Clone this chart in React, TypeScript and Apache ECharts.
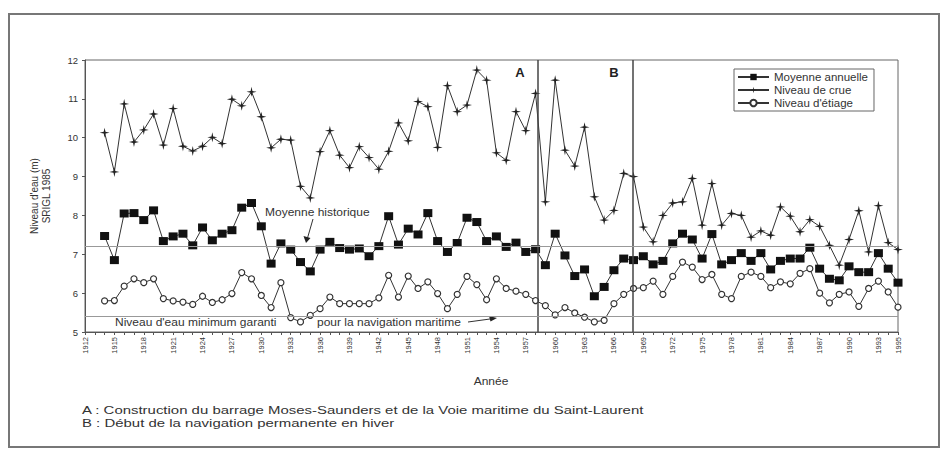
import React, { useEffect, useRef } from "react";
import * as echarts from "echarts";

// ---- Data (years 1914-1995) ----
const FIRST_YEAR = 1914;
const AXIS_MIN_YEAR = 1912;
const AXIS_MAX_YEAR = 1995;
const labelYears = [1912, 1915, 1918, 1921, 1924, 1927, 1930, 1933, 1936, 1939, 1942, 1945, 1948, 1951, 1954, 1957, 1960, 1963, 1966, 1969, 1972, 1975, 1978, 1981, 1984, 1987, 1990, 1993, 1995];

const moyenneAnnuelle = [
  7.47, 6.85, 8.05, 8.06, 7.88, 8.13, 7.34, 7.46, 7.53, 7.23,
  7.69, 7.36, 7.53, 7.62, 8.20, 8.32, 7.72, 6.76, 7.28, 7.12,
  6.80, 6.56, 7.12, 7.32, 7.16, 7.12, 7.15, 6.95, 7.21, 7.98,
  7.25, 7.66, 7.51, 8.06, 7.34, 7.06, 7.29, 7.94, 7.83, 7.34,
  7.46, 7.19, 7.30, 7.06, 7.13, 6.72, 7.53, 6.97, 6.44, 6.61,
  5.92, 6.16, 6.59, 6.89, 6.85, 6.95, 6.74, 6.83, 7.28, 7.53,
  7.38, 6.89, 7.52, 6.74, 6.85, 7.03, 6.83, 7.03, 6.61, 6.83,
  6.89, 6.89, 7.17, 6.63, 6.37, 6.33, 6.69, 6.54, 6.54, 7.03,
  6.63, 6.27,
];

const niveauCrue = [
  10.13, 9.12, 10.87, 9.89, 10.20, 10.61, 9.81, 10.75, 9.78, 9.66,
  9.78, 10.01, 9.85, 10.99, 10.82, 11.18, 10.54, 9.74, 9.96, 9.94,
  8.75, 8.45, 9.64, 10.18, 9.55, 9.23, 9.77, 9.49, 9.19, 9.65,
  10.38, 9.92, 10.93, 10.80, 9.75, 11.34, 10.67, 10.84, 11.74, 11.48,
  9.61, 9.42, 10.67, 10.18, 11.14, 8.35, 11.48, 9.68, 9.27, 10.27,
  8.48, 7.88, 8.13, 9.08, 9.00, 7.70, 7.32, 8.00, 8.32, 8.35,
  8.95, 7.75, 8.82, 7.75, 8.05, 8.00, 7.44, 7.60, 7.49, 8.22,
  7.98, 7.58, 7.89, 7.72, 7.23, 6.72, 7.38, 8.12, 7.06, 8.25,
  7.30, 7.12,
];

const niveauEtiage = [
  5.80, 5.81, 6.18, 6.37, 6.27, 6.37, 5.86, 5.80, 5.77, 5.71,
  5.92, 5.76, 5.83, 5.99, 6.53, 6.37, 5.94, 5.63, 6.27, 5.37,
  5.26, 5.43, 5.60, 5.90, 5.73, 5.73, 5.73, 5.73, 5.88, 6.46,
  5.90, 6.44, 6.12, 6.29, 5.99, 5.60, 5.97, 6.43, 6.22, 5.83,
  6.37, 6.12, 6.05, 5.97, 5.81, 5.68, 5.44, 5.63, 5.49, 5.38,
  5.26, 5.30, 5.73, 5.97, 6.12, 6.14, 6.31, 5.97, 6.43, 6.80,
  6.67, 6.35, 6.48, 5.97, 5.86, 6.43, 6.54, 6.43, 6.14, 6.29,
  6.24, 6.51, 6.63, 6.00, 5.75, 5.97, 6.03, 5.66, 6.12, 6.31,
  6.03, 5.64,
];

const eventA = 1958.25;
const eventB = 1967.9;
const moyenneHistorique = 7.2;
const niveauMinimum = 5.41;

const FONT = "'Liberation Sans', Arial, Helvetica, sans-serif";
const TXT = "#333";

const toPairs = (arr: number[]) => arr.map((v, i) => [FIRST_YEAR + i, v]);

export default function App() {
  const ref = useRef<HTMLDivElement>(null);

  useEffect(() => {
    if (!ref.current) return;
    const chart = echarts.init(ref.current, undefined, { renderer: "svg" });

    const crossSymbol = "path://M5,0 L5.9,4.1 L10,5 L5.9,5.9 L5,10 L4.1,5.9 L0,5 L4.1,4.1 Z";

    chart.setOption({
      animation: false,
      backgroundColor: "#fff",
      textStyle: { fontFamily: FONT },
      grid: {
        left: 85,
        top: 60,
        right: 51,
        bottom: 129,
        show: true,
        borderColor: "#666",
        borderWidth: 1,
        backgroundColor: "transparent",
      },
      legend: {
        orient: "vertical",
        left: 734,
        top: 69,
        padding: [2, 6, 2, 3],
        itemGap: 1,
        itemWidth: 31,
        itemHeight: 8,
        borderColor: "#666",
        borderWidth: 1,
        textStyle: { fontSize: 11.5, color: TXT, fontFamily: FONT },
        data: ["Moyenne annuelle", "Niveau de crue", "Niveau d'étiage"],
      },
      xAxis: {
        type: "value",
        min: AXIS_MIN_YEAR,
        max: AXIS_MAX_YEAR,
        interval: 1,
        splitLine: { show: false },
        axisLine: { lineStyle: { color: "#555", width: 1 } },
        axisTick: { show: true, length: 3, lineStyle: { color: "#555" } },
        axisLabel: {
          rotate: 90,
          fontSize: 7.5,
          color: TXT,
          margin: 5,
          fontFamily: FONT,
          formatter: (v: number) => (labelYears.includes(v) ? String(v) : ""),
        },
      },
      yAxis: {
        type: "value",
        min: 5,
        max: 12,
        interval: 1,
        splitLine: { show: false },
        axisLine: { show: true, lineStyle: { color: "#555", width: 1 } },
        axisTick: { show: true, length: 3, lineStyle: { color: "#555" } },
        axisLabel: { fontSize: 9.5, color: TXT, margin: 7, fontFamily: FONT },
        name: "Niveau d'eau (m)\nSRIGL 1985",
        nameLocation: "middle",
        nameRotate: 90,
        nameGap: 33,
        nameTextStyle: { fontSize: 10, color: TXT, lineHeight: 12, fontFamily: FONT },
      },
      series: [
        {
          name: "Moyenne annuelle",
          type: "line",
          data: toPairs(moyenneAnnuelle),
          symbol: "rect",
          symbolSize: [9, 8],
          itemStyle: { color: "#111" },
          lineStyle: { color: "#333", width: 1 },
          z: 3,
          markLine: {
            silent: true,
            symbol: "none",
            label: { show: false },
            data: [
              { xAxis: eventA, lineStyle: { color: "#444", width: 1.5, type: "solid" } },
              { xAxis: eventB, lineStyle: { color: "#444", width: 1.5, type: "solid" } },
              { yAxis: moyenneHistorique, lineStyle: { color: "#999", width: 1, type: "solid" } },
              { yAxis: niveauMinimum, lineStyle: { color: "#999", width: 1, type: "solid" } },
            ],
          },
        },
        {
          name: "Niveau de crue",
          type: "line",
          data: toPairs(niveauCrue),
          symbol: crossSymbol,
          symbolSize: 10,
          itemStyle: { color: "#222" },
          lineStyle: { color: "#333", width: 1 },
          z: 3,
        },
        {
          name: "Niveau d'étiage",
          type: "line",
          data: toPairs(niveauEtiage),
          symbol: "circle",
          symbolSize: 6,
          itemStyle: { color: "#fff", borderColor: "#333", borderWidth: 1.2 },
          lineStyle: { color: "#333", width: 1 },
          z: 3,
        },
      ],
      graphic: [
        {
          type: "rect",
          shape: { x: 9, y: 14, width: 930, height: 433 },
          style: { fill: "none", stroke: "#777", lineWidth: 2 },
          silent: true,
        },
        { type: "text", x: 520, y: 72, style: { text: "A", font: `bold 13px ${FONT}`, fill: "#222", textAlign: "center", textVerticalAlign: "middle" } },
        { type: "text", x: 614, y: 72, style: { text: "B", font: `bold 13px ${FONT}`, fill: "#222", textAlign: "center", textVerticalAlign: "middle" } },
        { type: "text", x: 265, y: 212, scaleX: 1.2, style: { text: "Moyenne historique", font: `10px ${FONT}`, fill: TXT, textVerticalAlign: "middle" } },
        { type: "line", shape: { x1: 313, y1: 219, x2: 307.5, y2: 238 }, style: { stroke: "#333", lineWidth: 1 } },
        { type: "polygon", shape: { points: [[303.5, 236], [310.5, 238], [306, 243]] }, style: { fill: "#222" } },
        { type: "text", x: 115, y: 322, scaleX: 1.2, style: { text: "Niveau d'eau minimum garanti", font: `10px ${FONT}`, fill: TXT, textVerticalAlign: "middle" } },
        { type: "text", x: 317, y: 322, scaleX: 1.2, style: { text: "pour la navigation maritime", font: `10px ${FONT}`, fill: TXT, textVerticalAlign: "middle" } },
        { type: "line", shape: { x1: 468, y1: 322, x2: 490, y2: 319 }, style: { stroke: "#333", lineWidth: 1 } },
        { type: "polygon", shape: { points: [[489, 316], [490.5, 321.5], [497, 318]] }, style: { fill: "#222" } },
        { type: "text", x: 491, y: 381, scaleX: 1.2, style: { text: "Année", font: `10px ${FONT}`, fill: TXT, textAlign: "center", textVerticalAlign: "middle" } },
        { type: "text", x: 82, y: 410, scaleX: 1.3, style: { text: "A : Construction du barrage Moses-Saunders et de la Voie maritime du Saint-Laurent", font: `11.5px ${FONT}`, fill: TXT, textVerticalAlign: "middle" } },
        { type: "text", x: 82, y: 423, scaleX: 1.3, style: { text: "B : Début de la navigation permanente en hiver", font: `11.5px ${FONT}`, fill: TXT, textVerticalAlign: "middle" } },
      ],
    });

    return () => chart.dispose();
  }, []);

  return (
    <div
      ref={ref}
      style={{ position: "fixed", left: 0, top: 0, width: 949, height: 461, background: "#fff" }}
    />
  );
}
